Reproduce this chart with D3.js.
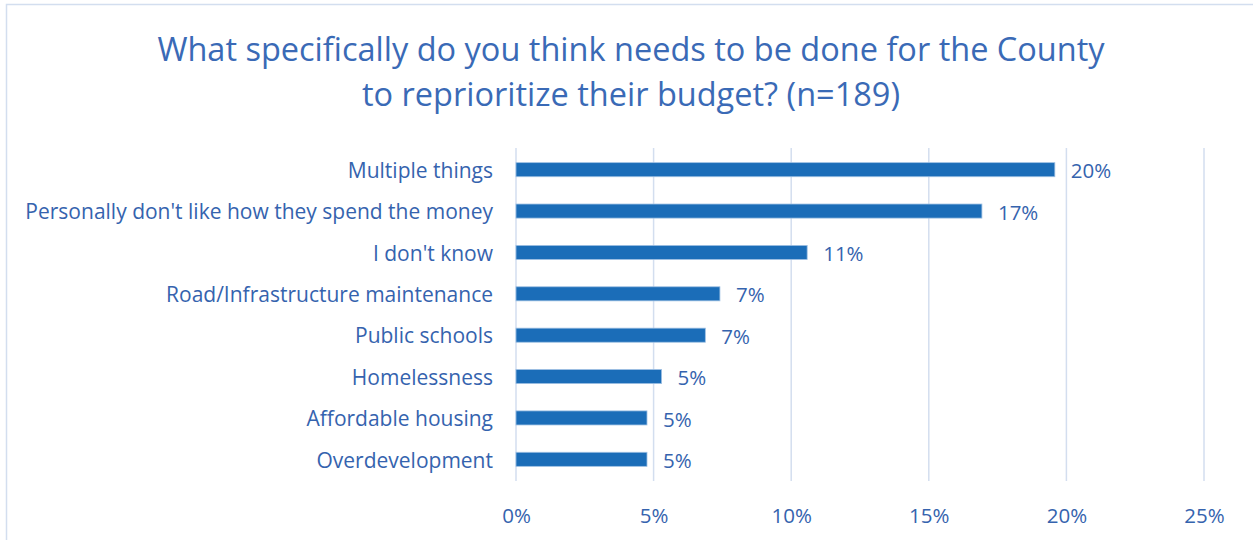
<!DOCTYPE html>
<html><head><meta charset="utf-8">
<script src="https://cdn.jsdelivr.net/npm/d3@7"></script>
<style>body{margin:0;background:#fff}svg{display:block}</style>
</head><body>
<svg id="c" width="1253" height="540"></svg>
<script>
const categories = ["Multiple things","Personally don't like how they spend the money","I don't know","Road/Infrastructure maintenance","Public schools","Homelessness","Affordable housing","Overdevelopment"];
const values = [0.1958,0.1693,0.1058,0.0741,0.0688,0.0529,0.0476,0.0476];
const valueLabels = ["20%","17%","11%","7%","7%","5%","5%","5%"];
const tickValues = [0,0.05,0.10,0.15,0.20,0.25];
const titleLines = ["What specifically do you think needs to be done for the County","to reprioritize their budget? (n=189)"];

const svg = d3.select("#c");
const font = "'Open Sans', sans-serif";
const textColor = "#3563AE";
svg.append("rect").attr("x",6.5).attr("y",4.5).attr("width",1260).attr("height",560)
  .attr("fill","#fff").attr("stroke","#d3deef").attr("stroke-width",1.5);

const x = d3.scaleLinear().domain([0,0.25]).range([516,1204]);
const y = d3.scaleBand().domain(categories).range([149,480]).paddingInner(0.66).paddingOuter(0.33);

svg.selectAll(".title").data(titleLines).join("text")
  .attr("x",631).attr("y",(d,i)=>61+i*45).attr("text-anchor","middle")
  .attr("font-family",font).attr("font-size",32.5).attr("fill","#3A6AB6").text(d=>d);

const g = svg.append("g");
g.selectAll(".grid").data(tickValues).join("line")
  .attr("x1",d=>x(d)).attr("x2",d=>x(d)).attr("y1",148).attr("y2",481)
  .attr("stroke","#d3deef").attr("stroke-width",1.5);

g.selectAll(".bar").data(values).join("rect")
  .attr("x",x(0)).attr("y",(d,i)=>y(categories[i]))
  .attr("width",d=>x(d)-x(0)).attr("height",y.bandwidth())
  .attr("fill","#1B6DB8").attr("stroke","#9EC0E3").attr("stroke-width",0.8);

g.selectAll(".vl").data(values).join("text")
  .attr("x",d=>x(d)+16).attr("y",(d,i)=>y(categories[i])+y.bandwidth()/2+1.5)
  .attr("dy","0.35em").attr("font-family",font).attr("font-size",20.5).attr("fill",textColor)
  .text((d,i)=>valueLabels[i]);

const yAxis = d3.axisLeft(y).tickSize(0).tickPadding(23);
const ya = svg.append("g").attr("transform","translate(516,1.5)").call(yAxis);
ya.select(".domain").remove();
ya.selectAll("text").attr("font-family",font).attr("font-size",21).attr("fill",textColor);

const xAxis = d3.axisBottom(x).tickValues(tickValues).tickFormat(d3.format(".0%")).tickSize(0).tickPadding(19);
const xa = svg.append("g").attr("transform","translate(0,489)").call(xAxis);
xa.select(".domain").remove();
xa.selectAll("text").attr("font-family",font).attr("font-size",20.5).attr("fill",textColor);
</script>
</body></html>
